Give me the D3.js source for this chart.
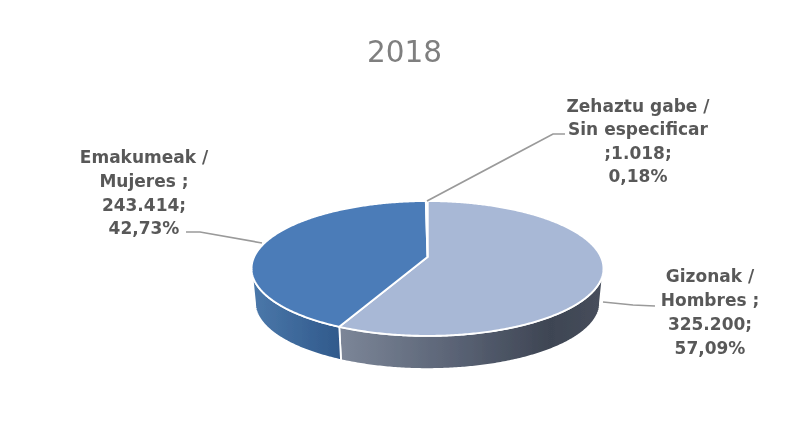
<!DOCTYPE html>
<html><head><meta charset="utf-8">
<script src="https://cdn.jsdelivr.net/npm/d3@7"></script>
<style>html,body{margin:0;padding:0;background:#fff}svg{display:block}</style>
</head><body><svg id="c" width="804" height="434"></svg>
<script>
const title = "2018";
const categories = ["Gizonak / Hombres", "Emakumeak / Mujeres", "Zehaztu gabe / Sin especificar"];
const values = [325200, 243414, 1018];
const valueLabels = ["325.200", "243.414", "1.018"];
const percentLabels = ["57,09%", "42,73%", "0,18%"];
const labelLines = [
  ["Gizonak /", "Hombres ;", "325.200;", "57,09%"],
  ["Emakumeak /", "Mujeres ;", "243.414;", "42,73%"],
  ["Zehaztu gabe /", "Sin especificar", ";1.018;", "0,18%"]
];
const topColors = ["#a8b8d6", "#4b7cb8", "#8f9db8"];
const sideStops = [
  [["0%", "#7c8698"], ["45%", "#596274"], ["80%", "#3e4553"], ["100%", "#474e5c"]],
  [["0%", "#4b78aa"], ["100%", "#30598b"]]
];

const svg = d3.select("#c");
const W = 804, H = 434;
const cx = 427.5, cy = 257, R = 173.4, b = 65.5, k = -0.17, depth = 34.5, shrink = 0.98, midY = 268.5;
const labelCx = [710, 144, 638];
const baselines = [[282, 306, 330, 354], [163, 187, 211, 234], [112, 135, 159, 182]];
const leaders = [
  [[603, 302], [633, 305], [655, 306]],
  [[186, 232], [200, 232], [262, 243]],
  [[427, 201], [553, 134], [565, 134]]
];

// Perspective projection of the pie's circle: angle -> screen
function project(a, bottom) {
  const u = Math.sin(a), v = -Math.cos(a), d = 1 + k * v;
  let x = R * u / d, y = cy + b * v / d;
  if (bottom) { x *= shrink; y = midY + (y - midY) * shrink + depth; }
  return [cx + x, y];
}
function rim(a0, a1, bottom) {
  const n = Math.max(2, Math.ceil(Math.abs(a1 - a0) / 0.01));
  return d3.range(n + 1).map(i => project(a0 + (a1 - a0) * i / n, bottom));
}

const arcs = d3.pie().sort(null).startAngle(0).endAngle(2 * Math.PI)(values);
const line = d3.line().curve(d3.curveLinear);

const defs = svg.append("defs");
defs.append("filter").attr("id", "soft").attr("x", "-5%").attr("y", "-5%").attr("width", "110%").attr("height", "110%")
  .append("feGaussianBlur").attr("stdDeviation", 0.7);
defs.append("filter").attr("id", "softText").attr("x", "-5%").attr("y", "-20%").attr("width", "110%").attr("height", "140%")
  .append("feGaussianBlur").attr("stdDeviation", 0.55);

const visA0 = 100 * Math.PI / 180, visA1 = 260 * Math.PI / 180;
const root = svg.append("g");
const pie = root.append("g").attr("filter", "url(#soft)");

// Sides
arcs.forEach((d, i) => {
  const a0 = Math.max(d.startAngle, visA0), a1 = Math.min(d.endAngle, visA1);
  if (a1 <= a0) return;
  const top = rim(a0, a1, false), bot = rim(a0, a1, true);
  const xs = top.concat(bot).map(p => p[0]);
  const g = defs.append("linearGradient").attr("id", "side" + i)
    .attr("gradientUnits", "userSpaceOnUse")
    .attr("x1", d3.min(xs)).attr("x2", d3.max(xs)).attr("y1", 0).attr("y2", 0);
  sideStops[i].forEach(s => g.append("stop").attr("offset", s[0]).attr("stop-color", s[1]));
  pie.append("path")
    .attr("d", line(top.concat(bot.reverse())) + "Z")
    .attr("fill", `url(#side${i})`)
    .attr("stroke", "#fff").attr("stroke-width", 1.8).attr("stroke-linejoin", "round");
});

// Top faces
arcs.forEach((d, i) => {
  pie.append("path")
    .attr("d", line([[cx, cy]].concat(rim(d.startAngle, d.endAngle, false))) + "Z")
    .attr("fill", topColors[i])
    .attr("stroke", "#fff").attr("stroke-width", 1.9).attr("stroke-linejoin", "round");
});

// Leaders
root.append("g").attr("filter", "url(#soft)").selectAll("path").data(leaders).join("path")
  .attr("d", d => line(d)).attr("fill", "none").attr("stroke", "#9a9a9a").attr("stroke-width", 1.7);

// Title
root.append("text").attr("x", 404.5).attr("y", 62).attr("text-anchor", "middle")
  .attr("font-family", "'DejaVu Sans', sans-serif").attr("font-size", 29.5)
  .attr("fill", "#7f7f7f").attr("filter", "url(#softText)").text(title);

// Labels
labelLines.forEach((lines, i) => {
  const t = root.append("text").attr("text-anchor", "middle")
    .attr("font-family", "'DejaVu Sans', sans-serif").attr("font-size", 17)
    .attr("font-weight", 700).attr("fill", "#595959").attr("filter", "url(#softText)");
  lines.forEach((s, j) => t.append("tspan").attr("x", labelCx[i]).attr("y", baselines[i][j]).text(s));
});
</script></body></html>
